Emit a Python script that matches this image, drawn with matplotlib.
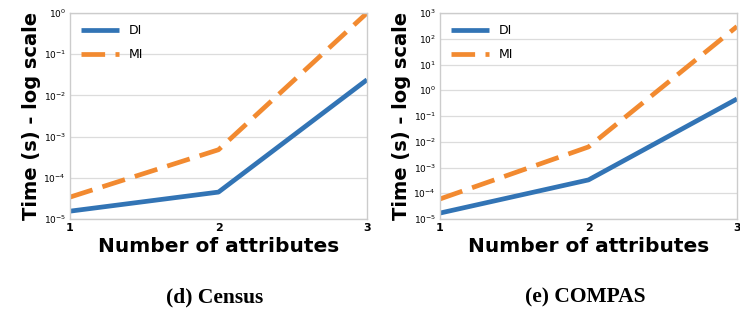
import numpy as np
import matplotlib
matplotlib.use("Agg")
import matplotlib.pyplot as plt
from matplotlib.ticker import LogLocator, NullLocator

# data
n_attrs = [1, 2, 3]
census_di = [1.55e-5, 4.5e-5, 2.4e-2]
census_mi = [3.4e-5, 4.8e-4, 1.0e0]
compas_di = [1.7e-5, 3.3e-4, 4.6e-1]
compas_mi = [6.0e-5, 6.3e-3, 3.0e2]
captions = ["(d) Census", "(e) COMPAS"]
ylims = [(1e-5, 1e0), (1e-5, 1e3)]

blue = "#3274b5"
orange = "#f28a30"

fig = plt.figure(figsize=(7.4, 3.2), dpi=100)
fig.set_facecolor("white")

panels = [(census_di, census_mi), (compas_di, compas_mi)]
lefts = [70 / 740, 440 / 740]

for i, (di, mi) in enumerate(panels):
    ax = fig.add_axes([lefts[i], 1 - 219 / 320, 297 / 740, 206 / 320])
    ax.plot(n_attrs, di, color=blue, lw=3.4, solid_capstyle="butt", label="DI")
    ax.plot(n_attrs, mi, color=orange, lw=3.4, ls=(0, (5, 2.2)), label="MI")
    ax.set_yscale("log")
    ax.set_ylim(*ylims[i])
    ax.set_xlim(1, 3)
    ax.set_xticks(n_attrs)
    ax.yaxis.set_major_locator(LogLocator(base=10, numticks=20))
    ax.yaxis.set_minor_locator(NullLocator())
    ax.grid(axis="y", color="#dcdcdc", lw=0.9)
    ax.set_axisbelow(True)
    for sp in ax.spines.values():
        sp.set_color("#cccccc")
        sp.set_linewidth(1.0)
    ax.tick_params(axis="both", length=0, labelsize=6.5, pad=3)
    for lbl in ax.get_xticklabels():
        lbl.set_fontweight("bold")
        lbl.set_fontsize(8)
    ax.set_ylabel("Time (s) - log scale", fontsize=14, fontweight="bold", labelpad=2)
    ax.set_xlabel("Number of attributes", fontsize=14.5, fontweight="bold", labelpad=3)
    ax.legend(loc="upper left", frameon=False, fontsize=9, handlelength=3.0,
              borderaxespad=0.5, labelspacing=0.9)
    fig.text(lefts[i] + 297 / 740 / 2 - 0.005, 1 - 297 / 320, captions[i],
             ha="center", va="center", fontsize=15.5,
             family="Liberation Serif", fontweight="bold")

fig.savefig("out.png", dpi=100)
